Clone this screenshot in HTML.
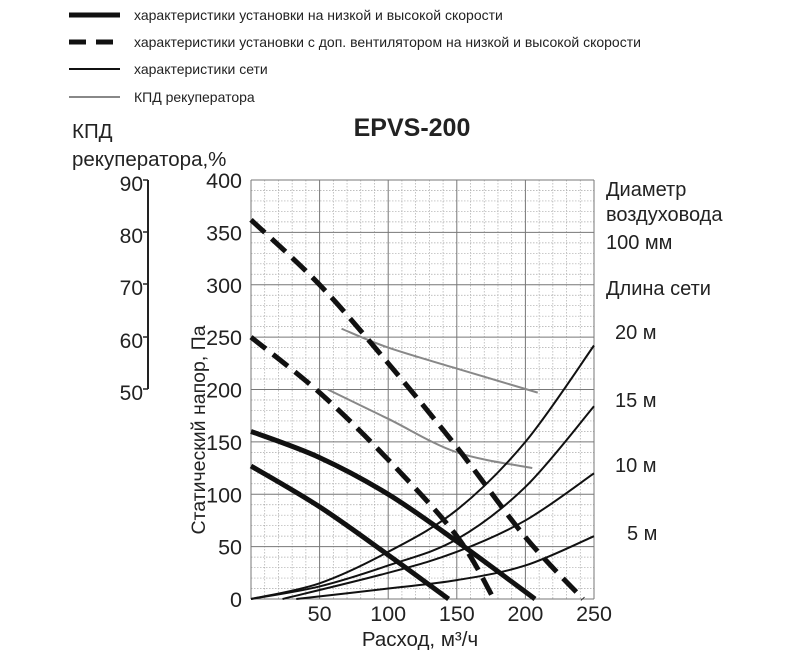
<!DOCTYPE html>
<html><head><meta charset="utf-8"><style>
body{margin:0;background:#fff;}
svg text{font-family:"Liberation Sans",sans-serif;fill:#222;}
</style></head><body>
<svg id="s" width="800" height="655" viewBox="0 0 800 655" xmlns="http://www.w3.org/2000/svg">
<g stroke="#111">
<line x1="69" y1="15" x2="120" y2="15" stroke-width="5"/>
<line x1="69" y1="42" x2="120" y2="42" stroke-width="5" stroke-dasharray="17,10"/>
<line x1="69" y1="69" x2="120" y2="69" stroke-width="2"/>
<line x1="69" y1="97" x2="120" y2="97" stroke-width="2" stroke="#888"/>
</g>
<g font-size="14">
<text x="134" y="20">характеристики установки на низкой и высокой скорости</text>
<text x="134" y="47">характеристики установки с доп. вентилятором на низкой и высокой скорости</text>
<text x="134" y="74">характеристики сети</text>
<text x="134" y="102">КПД рекуператора</text>
</g>
<text x="412" y="136" font-size="25" font-weight="bold" text-anchor="middle">EPVS-200</text>
<text x="72" y="138" font-size="20.5">КПД</text>
<text x="72" y="166" font-size="20.5">рекуператора,%</text>
<g id="grid"></g>
<line x1="148" y1="180" x2="148" y2="389" stroke="#222" stroke-width="2"/>
<g stroke="#222" stroke-width="1.5">
<line x1="143" y1="180" x2="148" y2="180"/><line x1="143" y1="232" x2="148" y2="232"/><line x1="143" y1="284" x2="148" y2="284"/><line x1="143" y1="337" x2="148" y2="337"/><line x1="143" y1="389" x2="148" y2="389"/>
</g>
<g font-size="21" text-anchor="end">
<text x="143" y="191">90</text><text x="143" y="243">80</text><text x="143" y="295">70</text><text x="143" y="348">60</text><text x="143" y="400">50</text>
</g>
<g id="ylab" font-size="21.5" text-anchor="end"></g>
<g id="xlab" font-size="21.5" text-anchor="middle"></g>
<text x="420" y="646" font-size="20.5" text-anchor="middle">Расход, м³/ч</text>
<text transform="translate(205,430) rotate(-90)" font-size="19.5" text-anchor="middle">Статический напор, Па</text>
<g font-size="20">
<text x="606" y="196">Диаметр</text>
<text x="606" y="221">воздуховода</text>
<text x="606" y="249">100 мм</text>
<text x="606" y="295">Длина сети</text>
<text x="615" y="339">20 м</text>
<text x="615" y="407">15 м</text>
<text x="615" y="472">10 м</text>
<text x="627" y="540">5 м</text>
</g>
<g id="curves" fill="none"></g>
</svg>
<script>
var NS="http://www.w3.org/2000/svg";
function X(u){return 251+1.372*u;} function Y(p){return 599-1.0475*p;}
function el(par,tag,attrs,txt){var e=document.createElementNS(NS,tag);for(var k in attrs)e.setAttribute(k,attrs[k]);if(txt!==undefined)e.textContent=txt;par.appendChild(e);return e;}
var g=document.getElementById('grid');
for(var u=0;u<=250;u+=10){if(u%50)el(g,'line',{x1:X(u),y1:180,x2:X(u),y2:599,stroke:'#aaa','stroke-width':0.7,'stroke-dasharray':'1.5,1.5'});}
for(var p=0;p<=400;p+=10){if(p%50)el(g,'line',{x1:251,y1:Y(p),x2:594,y2:Y(p),stroke:'#aaa','stroke-width':0.7,'stroke-dasharray':'1.5,1.5'});}
for(var u=0;u<=250;u+=50)el(g,'line',{x1:X(u),y1:180,x2:X(u),y2:599,stroke:'#777','stroke-width':1});
for(var p=0;p<=400;p+=50)el(g,'line',{x1:251,y1:Y(p),x2:594,y2:Y(p),stroke:'#777','stroke-width':1});
var yl=document.getElementById('ylab');
for(var p=0;p<=400;p+=50)el(yl,'text',{x:242,y:Y(p)+8},p);
var xl=document.getElementById('xlab');
for(var u=50;u<=250;u+=50)el(xl,'text',{x:X(u),y:621},u);
function path(pts){var P=pts.map(function(a){return [X(a[0]),Y(a[1])];});var d='M'+P[0][0]+','+P[0][1];
for(var i=0;i<P.length-1;i++){var p0=P[i-1]||P[i],p1=P[i],p2=P[i+1],p3=P[i+2]||P[i+1];
d+=' C'+(p1[0]+(p2[0]-p0[0])/6)+','+(p1[1]+(p2[1]-p0[1])/6)+' '+(p2[0]-(p3[0]-p1[0])/6)+','+(p2[1]-(p3[1]-p1[1])/6)+' '+p2[0]+','+p2[1];}return d;}
var c=document.getElementById('curves');
function add(pts,st){st.d=path(pts);el(c,'path',st);}
add([[66,258],[100,240],[150,220],[209,197]],{stroke:'#888','stroke-width':2});
add([[56,200],[100,172],[150,140],[205,125]],{stroke:'#888','stroke-width':2});
add([[0,0],[50,15],[100,45],[150,85],[200,150],[250,242]],{stroke:'#111','stroke-width':2});
add([[0,0],[50,12],[100,32],[150,57],[200,107],[250,184]],{stroke:'#111','stroke-width':2});
add([[23,0],[100,25],[150,45],[200,75],[250,120]],{stroke:'#111','stroke-width':2});
add([[33,0],[100,10],[150,18],[200,32],[250,60]],{stroke:'#111','stroke-width':2});
add([[0,160],[50,135],[100,100],[150,55],[207,0]],{stroke:'#111','stroke-width':5});
add([[0,127],[50,88],[100,42],[144,0]],{stroke:'#111','stroke-width':5});
add([[0,362],[50,300],[100,225],[150,145],[200,59],[242,0]],{stroke:'#111','stroke-width':5,'stroke-dasharray':'19,9'});
add([[0,250],[50,197],[100,133],[150,60],[177,0]],{stroke:'#111','stroke-width':5,'stroke-dasharray':'19,9'});
</script>
</body></html>
